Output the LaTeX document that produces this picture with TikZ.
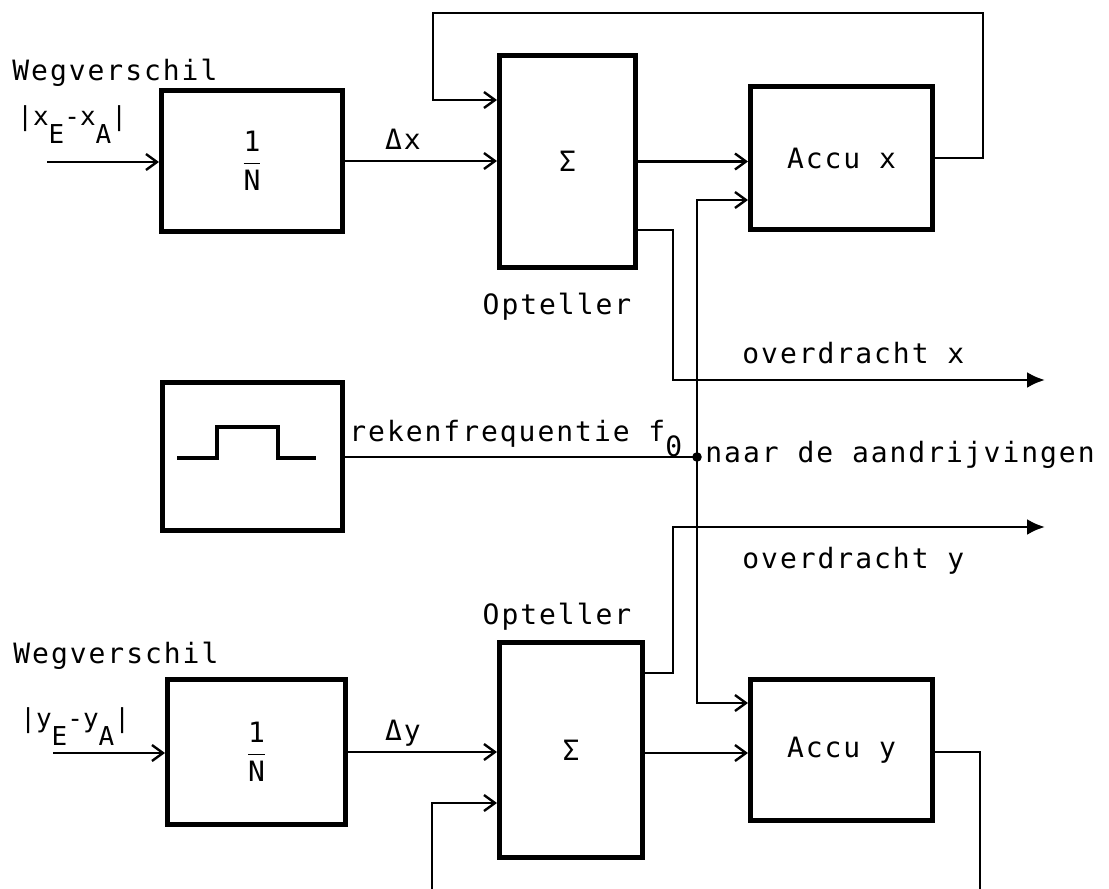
\documentclass[tikz,border=0pt]{standalone}
\usepackage{fontspec}
\newfontfamily\typeface[LetterSpace=7]{DejaVu Sans Mono}
\newfontfamily\typefacetight{DejaVu Sans Mono}
\usetikzlibrary{arrows.meta,calc}

\begin{document}
\begin{tikzpicture}[
  x=0.5pt, y=-0.5pt,
  font=\fontsize{14pt}{16pt}\typeface,
  blk/.style={draw, line width=2.5pt, inner sep=0pt, align=center},
  lbl/.style={inner sep=0pt},
  wire/.style={line width=1.1pt},
  arrow/.style={-{Straight Barb[length=5.5pt,width=8pt]}, line width=1.2pt},
  outarrow/.style={-{Latex[length=9pt,width=8pt]}, line width=1.4pt}
]
\useasboundingbox (0,0) rectangle (1109,889);

\node[blk, minimum width=90.5pt, minimum height=70.5pt] (nx) at (252,161)
  {\typefacetight$\displaystyle\frac{\hbox{1}}{\hbox{N}}$};
\node[blk, minimum width=68pt, minimum height=106pt] (sx) at (567.5,161.5) {\typefacetight Σ};
\node[blk, minimum width=91pt, minimum height=71.5pt] (ax) at (841.5,158) {Accu x};
\node[blk, minimum width=90pt, minimum height=74pt] (clk) at (252.5,456.5) {};
\node[blk, minimum width=89pt, minimum height=72.5pt] (ny) at (256.5,752)
  {\typefacetight$\displaystyle\frac{\hbox{1}}{\hbox{N}}$};
\node[blk, minimum width=71.5pt, minimum height=107.5pt] (sy) at (571,750) {\typefacetight Σ};
\node[blk, minimum width=91pt, minimum height=70.5pt] (ay) at (841.5,750) {Accu y};

\draw[line width=1.6pt] (177,458) -- (217,458) -- (217,427) -- (278,427) -- (278,458) -- (316,458);

\node[lbl, anchor=base west] (wegx) at (12,80) {Wegverschil};
\node[lbl, anchor=base west] (difx) at (17,125)
  {\fontsize{13pt}{15pt}\typefacetight|x\raisebox{-0.7em}{E}-x\raisebox{-0.7em}{A}|};
\node[lbl] (dx) at (403,139) {Δx};
\node[lbl] (optx) at (557,307) {Opteller};
\node[lbl, anchor=base west] (fnul) at (349,441) {rekenfrequentie f\raisebox{-0.55em}{0}};
\node[lbl, anchor=base west] (naar) at (705,462) {naar de aandrijvingen};
\node[lbl, anchor=base west] (ovlx) at (742,363) {overdracht x};
\node[lbl, anchor=base west] (ovly) at (742,568) {overdracht y};
\node[lbl] (opty) at (557,617) {Opteller};
\node[lbl, anchor=base west] (wegy) at (13,663) {Wegverschil};
\node[lbl, anchor=base west] (dify) at (20,727)
  {\fontsize{13pt}{15pt}\typefacetight|y\raisebox{-0.7em}{E}-y\raisebox{-0.7em}{A}|};
\node[lbl] (dy) at (403,733) {Δy};

\coordinate (inx) at (47,162);
\coordinate (iny) at (53,753);
\coordinate (fbx1) at (983,13);
\coordinate (fbx2) at (433,100);
\coordinate (tapx) at (673,380);
\coordinate (ovx) at (1045,380);
\coordinate (tapy) at (673,527);
\coordinate (ovy) at (1045,527);
\coordinate (jn) at (697,457);
\coordinate (fby1) at (980,889);
\coordinate (fby2) at (432,889);

\draw[arrow] (inx) -- (inx -| nx.west);
\draw[arrow] (nx.east) -- (nx.east -| sx.west);
\draw[arrow] (sx.east) -- (sx.east -| ax.west);
\draw[arrow] (ax.east) -| (fbx1) -| (fbx2) -- (fbx2 -| sx.west);
\draw[outarrow] (sx.east |- 0,230) -| (tapx) -- (ovx);

\draw[wire] (clk.east |- jn) -- (jn);
\fill (jn) circle[radius=2.4pt];
\draw[arrow] (jn) |- (ax.west |- 0,200);
\draw[arrow] (jn) |- (ay.west |- 0,703);

\draw[arrow] (iny) -- (iny -| ny.west);
\draw[arrow] (ny.east) -- (ny.east -| sy.west);
\draw[arrow] (sy.east |- 0,753) -- (ay.west |- 0,753);
\draw[outarrow] (sy.east |- 0,673) -| (tapy) -- (ovy);
\draw[wire] (ay.east |- 0,752) -| (fby1);
\draw[arrow] (fby2) |- (sy.west |- 0,803);

\end{tikzpicture}
\end{document}
